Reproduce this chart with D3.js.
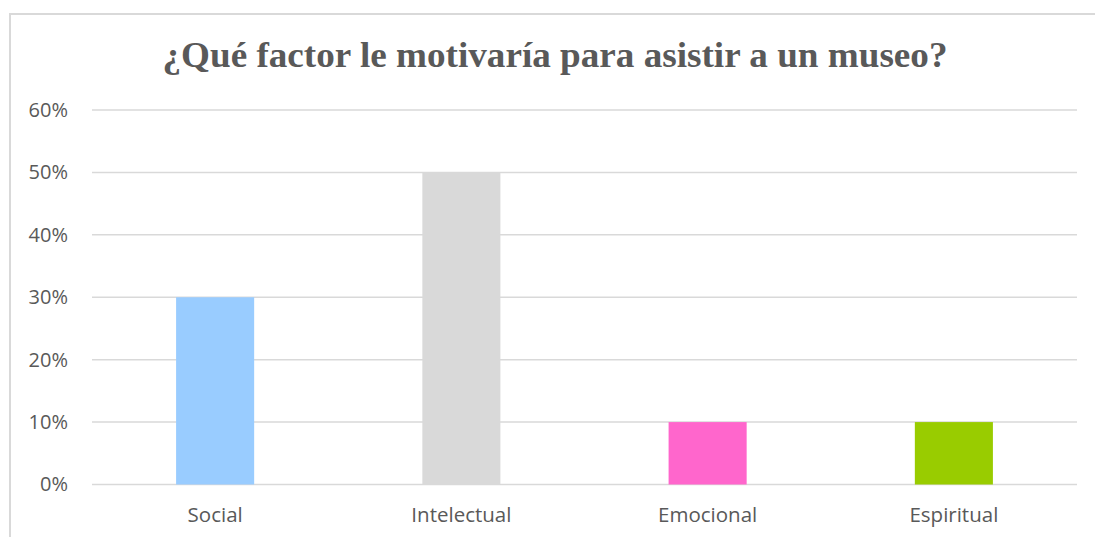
<!DOCTYPE html>
<html>
<head>
<meta charset="utf-8">
<script src="https://cdn.jsdelivr.net/npm/d3@7"></script>
<style>
  body { margin: 0; background: #fff; }
  svg { display: block; }
</style>
</head>
<body>
<div id="chart"></div>
<script>
const categories = ['Social', 'Intelectual', 'Emocional', 'Espiritual']
const values = [0.30, 0.50, 0.10, 0.10]
const barColors = ['#99CCFF', '#D9D9D9', '#FF66CC', '#99CC00']
const yTicks = [0, 0.1, 0.2, 0.3, 0.4, 0.5, 0.6]
const title = '¿Qué factor le motivaría para asistir a un museo?'

const W = 1095
const H = 537
const margin = { top: 110, right: 18, bottom: 52, left: 92 }
const labelFont = '"Open Sans", "Liberation Sans", sans-serif'

const svg = d3.select('#chart')
  .append('svg')
  .attr('width', W)
  .attr('height', H)

// chart frame (runs off the right and bottom edge)
svg.append('rect')
  .attr('x', 10)
  .attr('y', 14)
  .attr('width', W + 20)
  .attr('height', H + 20)
  .attr('fill', 'none')
  .attr('stroke', '#D9D9D9')
  .attr('stroke-width', 2)

let x = d3.scaleBand()
  .domain(categories)
  .range([margin.left, W - margin.right])
  .paddingInner(0.683)
  .paddingOuter(0.3415)

let y = d3.scaleLinear()
  .domain([0, 0.6])
  .range([484.5, 110])

// gridlines
svg.append('g')
  .selectAll('line')
  .data(yTicks)
  .enter()
  .append('line')
  .attr('x1', margin.left)
  .attr('x2', W - margin.right)
  .attr('y1', (d) => y(d))
  .attr('y2', (d) => y(d))
  .attr('stroke', '#D9D9D9')
  .attr('stroke-width', 1.5)

let yAxis = d3.axisLeft(y)
  .tickValues(yTicks)
  .tickFormat(d3.format('.0%'))
  .tickSize(0)
  .tickPadding(24)

let gy = svg.append('g')
  .attr('transform', `translate(${margin.left},0)`)
  .call(yAxis)
gy.select('.domain').remove()
gy.selectAll('text')
  .attr('fill', '#595959')
  .style('font-family', labelFont)
  .style('font-size', '20px')

let xAxis = d3.axisBottom(x).tickSize(0).tickPadding(23)
let gx = svg.append('g')
  .attr('transform', `translate(0,${y(0)})`)
  .call(xAxis)
gx.select('.domain').remove()
gx.selectAll('text')
  .attr('fill', '#595959')
  .style('font-family', labelFont)
  .style('font-size', '20.5px')

// bars
svg.append('g')
  .selectAll('rect')
  .data(values)
  .enter()
  .append('rect')
  .attr('x', (d, i) => x(categories[i]))
  .attr('y', (d) => y(d))
  .attr('width', x.bandwidth())
  .attr('height', (d) => y(0) - y(d))
  .attr('fill', (d, i) => barColors[i])

svg.append('text')
  .text(title)
  .attr('x', 555)
  .attr('y', 67)
  .attr('text-anchor', 'middle')
  .attr('textLength', 785)
  .attr('lengthAdjust', 'spacingAndGlyphs')
  .attr('fill', '#595959')
  .style('font-family', '"Liberation Serif", "Times New Roman", serif')
  .style('font-weight', 'bold')
  .style('font-size', '35px')
</script>
</body>
</html>
